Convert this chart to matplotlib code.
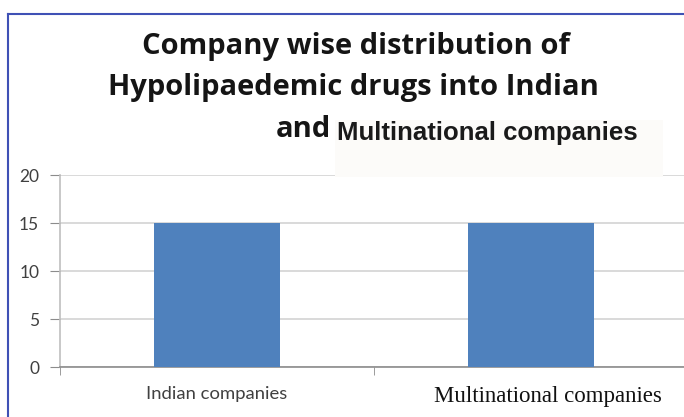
import matplotlib
matplotlib.use("Agg")
import matplotlib.pyplot as plt
from matplotlib.patches import Rectangle
from matplotlib.lines import Line2D
from matplotlib.transforms import ScaledTranslation

categories = ["Indian companies", "Multinational companies"]
values = [15, 15]
yticks = [0, 5, 10, 15, 20]
title_lines = ["Company wise distribution of", "Hypolipaedemic drugs into Indian"]
title_and = "and"
title_tail = "Multinational companies"

W, H = 684, 417
fig = plt.figure(figsize=(W / 100, H / 100), dpi=100)
fig.patch.set_facecolor("white")

def fx(px):
    return px / W

def fy(py):
    return 1 - py / H

ax = fig.add_axes([fx(60), fy(367), fx(688) - fx(60), fy(175) - fy(367)])
x = list(range(len(categories)))
ax.bar(x, values, width=0.4, color="#4F81BD", zorder=3)
ax.set_xlim(-0.5, 1.5)
ax.set_ylim(0, 20)
ax.set_yticks(yticks)
ax.set_yticklabels([str(t) for t in yticks], fontsize=12.5, color="#404040", family="Lato")
ax.yaxis.grid(True, color="#D9D9D9", linewidth=1.4, zorder=0)
for s in ["top", "right"]:
    ax.spines[s].set_visible(False)
ax.spines["left"].set_color("#BFBFBF")
ax.spines["bottom"].set_color("#8C8C8C")
ax.spines["left"].set_linewidth(1.2)
ax.spines["bottom"].set_linewidth(1.2)
ax.tick_params(axis="y", length=7, color="#8C8C8C", pad=8)
ax.set_xticks(x)
ax.set_xticklabels(categories)
ax.tick_params(axis="x", length=0, pad=14)
ax.set_xticks([-0.5, 0.5, 1.5], minor=True)
ax.tick_params(axis="x", which="minor", length=6, color="#8C8C8C")
lbls = ax.get_xticklabels()
lbls[0].set_fontfamily("Lato")
lbls[0].set_fontsize(13.3)
lbls[0].set_color("#404040")
lbls[1].set_fontfamily("Liberation Serif")
lbls[1].set_fontsize(16.5)
lbls[1].set_color("#111111")
lbls[1].set_transform(lbls[1].get_transform() + ScaledTranslation(0.17, 0, fig.dpi_scale_trans))

# white patch over the top gridline behind pasted title text
fig.patches.append(Rectangle((fx(335), fy(177)), fx(663) - fx(335), fy(120) - fy(177),
                             transform=fig.transFigure, facecolor="#FCFBF9",
                             edgecolor="none", zorder=5))

tfont = dict(fontsize=21, fontweight="bold", family="Open Sans", color="#151515")
fig.text(fx(356), fy(54), title_lines[0], ha="center", va="baseline", **tfont)
fig.text(fx(353), fy(95), title_lines[1], ha="center", va="baseline", **tfont)
fig.text(fx(331), fy(137), title_and, ha="right", va="baseline", zorder=6, **tfont)
fig.text(fx(337), fy(140), title_tail, ha="left", va="baseline",
         fontsize=18.5, fontweight="bold", family="Liberation Sans", color="#1a1a1a", zorder=6)

# blue frame
fig.lines.append(Line2D([fx(8), 1], [fy(14), fy(14)], transform=fig.transFigure,
                        color="#3F51B5", linewidth=1.5))
fig.lines.append(Line2D([fx(8), fx(8)], [fy(14), 0], transform=fig.transFigure,
                        color="#3F51B5", linewidth=1.5))

fig.savefig("out.png", dpi=100)
